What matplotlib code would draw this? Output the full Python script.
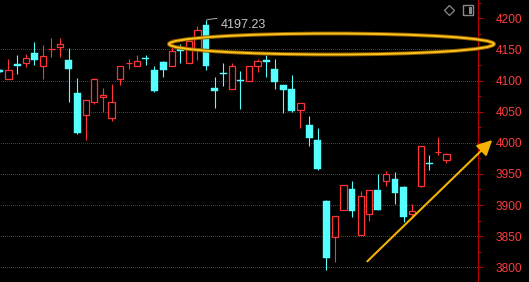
import matplotlib.pyplot as plt
from matplotlib.patches import Ellipse, Rectangle
from matplotlib.lines import Line2D
from matplotlib.ticker import MultipleLocator

# daily candles (open, high, low, close)
opens = [4117, 4103, 4127, 4129, 4144, 4124, 4150, 4154, 4133, 4080,
         4044, 4065, 4074, 4040, 4103, 4128, 4124, 4137, 4117, 4130,
         4123, 4151, 4129, 4151, 4189, 4088, 4112, 4086, 4101, 4099,
         4123, 4133, 4119, 4093, 4086, 4053, 4029, 4004, 3906, 3849,
         3892, 3926, 3852, 3885, 3924, 3939, 3942, 3929, 3885, 3930,
         3968, 3985, 3972]
highs = [4118, 4135, 4141, 4143, 4162, 4157, 4168, 4168, 4152, 4104,
         4069, 4104, 4088, 4094, 4123, 4134, 4141, 4141, 4123, 4131,
         4166, 4159, 4165, 4188, 4197.23, 4106, 4128, 4129, 4115, 4123,
         4135, 4141, 4135, 4093, 4109, 4064, 4043, 4024, 3908, 3882,
         3932, 3939, 3923, 3924, 3950, 3955, 3953, 3931, 3902, 3995,
         3980, 4009, 3984]
lows = [4113, 4103, 4111, 4121, 4125, 4103, 4138, 4138, 4066, 4014,
        4004, 4063, 4050, 4035, 4093, 4119, 4124, 4125, 4081, 4106,
        4123, 4129, 4128, 4133, 4117, 4056, 4091, 4086, 4054, 4099,
        4114, 4105, 4087, 4048, 4049, 4024, 3995, 3956, 3796, 3809,
        3892, 3881, 3852, 3875, 3892, 3931, 3902, 3873, 3879, 3929,
        3956, 3981, 3968]
closes = [4114, 4117, 4124, 4136, 4133, 4139, 4151, 4159, 4119, 4016,
          4069, 4102, 4076, 4065, 4123, 4129, 4132, 4135, 4084, 4117,
          4147, 4147, 4163, 4182, 4124, 4084, 4110, 4124, 4099, 4123,
          4132, 4130, 4097, 4085, 4051, 4064, 4008, 3958, 3815, 3882,
          3932, 3891, 3914, 3924, 3892, 3950, 3920, 3881, 3890, 3995,
          3966, 3986, 3982]

y_ticks = [3800, 3850, 3900, 3950, 4000, 4050, 4100, 4150, 4200]
grid_levels = [3800, 3850, 3900, 3950, 4000, 4050, 4100, 4150]
peak_label = "4197.23"

UP = '#ff3434'
DOWN = '#55ffff'
GOLD = '#ffc21a'

fig = plt.figure(figsize=(5.29, 2.82), dpi=100, facecolor='black')
ax = fig.add_axes([0, 0, 477.7 / 529, 1])
ax.set_facecolor('black')

# dotted price grid
ax.hlines(grid_levels, -5, 60, colors='#a01414', linewidth=0.72,
          linestyles=(0, (1, 2)), antialiased=False, zorder=0)

for i, (o, h, l, c) in enumerate(zip(opens, highs, lows, closes)):
    if c >= o:
        top, bot = c, o
        ax.vlines(i, top, h, colors=UP, linewidth=0.8, zorder=2)
        ax.vlines(i, l, bot, colors=UP, linewidth=0.8, zorder=2)
        ax.bar(i, max(top - bot, 0.3), bottom=bot, width=0.72,
               facecolor='black', edgecolor=UP, linewidth=0.9, zorder=3)
    else:
        ax.vlines(i, l, h, colors=DOWN, linewidth=0.8, zorder=2)
        ax.bar(i, max(o - c, 1.2), bottom=c, width=0.8,
               facecolor=DOWN, edgecolor=DOWN, linewidth=0.3, zorder=3)

ax.set_xlim(0.0105, 55.635)
ax.set_ylim(3776.4, 4229.4)

# axis on the right
for s in ['left', 'top', 'bottom']:
    ax.spines[s].set_visible(False)
ax.spines['right'].set_color('#b80000')
ax.spines['right'].set_linewidth(0.8)
ax.set_xticks([])
ax.yaxis.tick_right()
ax.set_yticks(y_ticks)
ax.yaxis.set_minor_locator(MultipleLocator(25))
ax.tick_params(axis='y', which='major', direction='out', length=3.8,
               width=0.8, color='#b80000', pad=9.4, labelcolor='#ff3c3c',
               labelsize=8.6)
ax.tick_params(axis='y', which='minor', direction='out', length=2.2,
               width=0.8, color='#b80000')
for t in ax.get_yticklabels():
    t.set_fontfamily('Liberation Sans')

# peak label
ax.annotate(peak_label, xy=(24.05, highs[24]), xytext=(25.75, 4189),
            color='#c8c8c8', fontsize=9, family='Liberation Sans',
            va='center', ha='left',
            arrowprops=dict(arrowstyle='-', color='#b0b0b0', lw=0.7,
                            connectionstyle='arc3,rad=0.2',
                            shrinkA=1, shrinkB=0))

# yellow highlights
ell_kw = dict(xy=(38.61, 4158.7), width=37.84, height=33.7, fill=False,
              clip_on=False, zorder=5)
ax.add_patch(Ellipse(edgecolor='#8a5c00', linewidth=2.8, **ell_kw))
ax.add_patch(Ellipse(edgecolor=GOLD, linewidth=1.4, **ell_kw))

ax.annotate('', xy=(57.33, 4004.5), xytext=(42.78, 3809.6),
            annotation_clip=False,
            arrowprops=dict(arrowstyle='-|>,head_length=0.9,head_width=0.45',
                            color='#f2b400', lw=1.5, shrinkA=0, shrinkB=0))

# small toolbar icons top right
fig.add_artist(Line2D([449.3 / 529], [1 - 9.7 / 282], marker='D', ms=5.5,
                      mfc='none', mec='#8a8a8a', mew=0.9,
                      transform=fig.transFigure))
fig.add_artist(Rectangle((462.7 / 529, 1 - 15 / 282), 10.6 / 529, 10 / 282,
                         fill=False, edgecolor='#8a8a8a', linewidth=1.0,
                         transform=fig.transFigure))
fig.add_artist(Rectangle((468.5 / 529, 1 - 13.5 / 282), 3.5 / 529, 7 / 282,
                         facecolor='#8a8a8a', edgecolor='none',
                         transform=fig.transFigure))

fig.savefig('out.png', dpi=100, facecolor='black')
